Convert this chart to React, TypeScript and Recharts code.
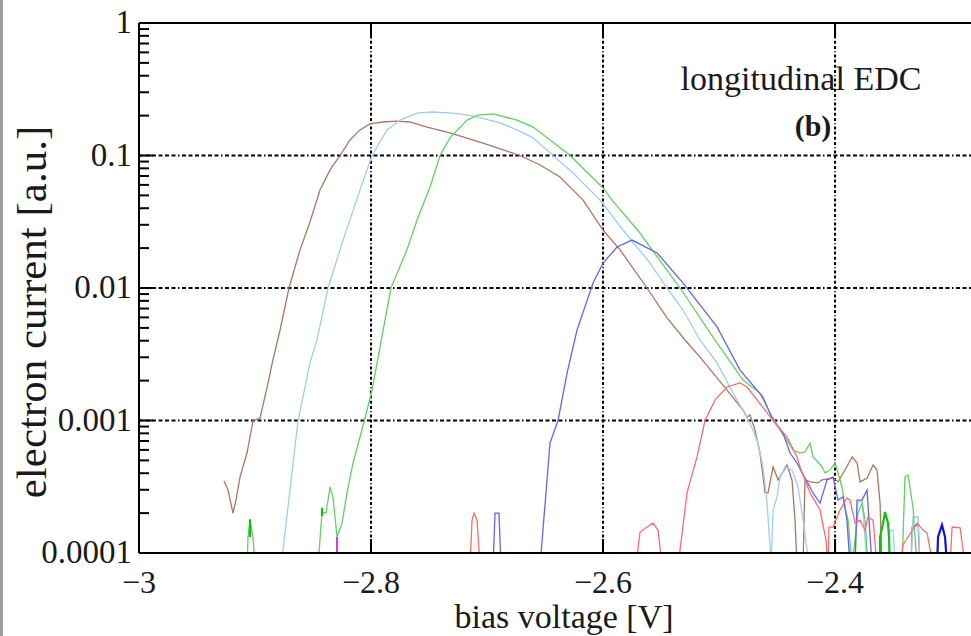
import React from 'react';
import { LineChart, Line, XAxis, YAxis, ReferenceLine, Customized } from 'recharts';

// ---------- axis / label values ----------
const X_DOMAIN: [number, number] = [-3, -2.2828];
const X_TICKS = [-3, -2.8, -2.6, -2.4];
const Y_DOMAIN: [number, number] = [0.0001, 1];
const Y_MAJOR = [0.0001, 0.001, 0.01, 0.1, 1];
const Y_LABELS = ['0.0001', '0.001', '0.01', '0.1', '1'];
const MINOR_MULT = [2, 3, 4, 5, 6, 7, 8, 9];
const GRID_X = [-2.8, -2.6, -2.4];
const GRID_Y = [0.001, 0.01, 0.1];
const FLOOR = 8e-5; // below the axis floor: the trace drops out of view

type P = [number, number | null];

// ---------- series (bias voltage [V], electron current [a.u.]) ----------
const BROWN: P[] = [
  [-2.9267, 3.49e-4], [-2.9233, 2.99e-4], [-2.919, 2.0e-4], [-2.9164, 2.51e-4], [-2.9129, 3.75e-4],
  [-2.9069, 5.68e-4], [-2.9017, 1.0e-3], [-2.8957, 1.04e-3], [-2.8897, 1.76e-3], [-2.8845, 2.88e-3],
  [-2.8784, 4.82e-3], [-2.8707, 0.01], [-2.8612, 0.0194], [-2.8526, 0.0315], [-2.844, 0.0549],
  [-2.8353, 0.0778], [-2.8267, 0.1], [-2.8181, 0.131], [-2.8095, 0.156], [-2.8009, 0.173],
  [-2.7897, 0.179], [-2.7776, 0.182], [-2.7664, 0.179], [-2.7517, 0.164], [-2.7319, 0.148],
  [-2.7034, 0.124], [-2.6802, 0.106], [-2.6716, 0.1], [-2.6543, 0.0848], [-2.6371, 0.0689],
  [-2.6172, 0.0461], [-2.6, 0.0274], [-2.5853, 0.0194], [-2.5621, 0.01], [-2.5448, 0.00594],
  [-2.5293, 0.00405], [-2.5164, 0.00301], [-2.4966, 0.00185], [-2.4793, 0.0012], [-2.4759, 0.00106],
  [-2.4733, 0.0011], [-2.469, 8.48e-4], [-2.4647, 5.68e-4], [-2.4603, 2.84e-4], [-2.4578, 2.84e-4],
  [-2.4534, 4.46e-4], [-2.4491, 3.56e-4], [-2.4414, 4.61e-4], [-2.4371, 3.56e-4], [-2.4345, 1.77e-4],
  [-2.4328, FLOOR],
  [-2.4276, FLOOR], [-2.4259, 3.56e-4], [-2.4216, 3.44e-4], [-2.4147, 3.38e-4], [-2.4112, 3.56e-4],
  [-2.4017, 3.68e-4], [-2.3974, 3.44e-4], [-2.3914, 4.23e-4], [-2.3853, 5.31e-4], [-2.381, 4.78e-4],
  [-2.3784, 3.44e-4], [-2.3724, 3.68e-4], [-2.3672, 4.61e-4], [-2.3638, 4.23e-4], [-2.3612, 2.38e-4],
  [-2.3595, FLOOR], [-2.3345, FLOOR], [-2.3336, 1.57e-4], [-2.3284, 1.63e-4], [-2.3267, FLOOR],
];

const LIGHTBLUE: P[] = [
  [-2.8776, FLOOR], [-2.8759, 1.05e-4], [-2.8629, 0.001], [-2.8526, 2.72e-3], [-2.8466, 4.05e-3],
  [-2.8371, 0.01], [-2.8241, 0.023], [-2.8095, 0.0549], [-2.7991, 0.1], [-2.7862, 0.156],
  [-2.775, 0.185], [-2.7603, 0.209], [-2.7466, 0.213], [-2.7293, 0.209], [-2.7121, 0.199],
  [-2.6888, 0.176], [-2.6741, 0.156], [-2.6603, 0.136], [-2.6431, 0.1], [-2.6259, 0.0738],
  [-2.6026, 0.0461], [-2.5828, 0.0274], [-2.5595, 0.0154], [-2.5448, 0.01], [-2.531, 0.00682],
  [-2.5164, 0.00405], [-2.5017, 0.00272], [-2.4879, 0.00161], [-2.4733, 9.57e-4], [-2.4664, 6.76e-4],
  [-2.4621, 4.46e-4], [-2.4586, 2.38e-4], [-2.456, 1.11e-4], [-2.4552, FLOOR], [-2.4534, 2.11e-4],
  [-2.45, 2.65e-4], [-2.4474, 3.75e-4], [-2.4431, 4.46e-4], [-2.4371, 4.23e-4], [-2.4319, 3.15e-4],
  [-2.4276, 1.77e-4], [-2.4241, 1.05e-4], [-2.4224, FLOOR],
  [-2.3828, FLOOR], [-2.381, 2.38e-4], [-2.3767, 2.51e-4], [-2.3724, FLOOR],
  [-2.3543, FLOOR], [-2.3526, 1.49e-4], [-2.35, 1.49e-4], [-2.348, FLOOR],
  [-2.3345, FLOOR], [-2.3328, 1.87e-4], [-2.3284, 1.87e-4], [-2.3267, FLOOR],
];

const GREEN: P[] = [
  [-2.9069, FLOOR], [-2.906, 1.32e-4], [-2.9043, 1.77e-4], [-2.9017, 1.32e-4], [-2.9, FLOOR],
  [-2.8457, FLOOR], [-2.8422, 2.04e-4], [-2.8388, 2.0e-4], [-2.8353, 3.15e-4], [-2.8328, 2.65e-4],
  [-2.8293, 1.32e-4], [-2.825, 1.68e-4], [-2.8207, 2.84e-4], [-2.8155, 4.78e-4], [-2.8095, 7.5e-4],
  [-2.8034, 1.2e-3], [-2.7991, 1.7e-3], [-2.7922, 3.6e-3], [-2.7828, 0.01], [-2.769, 0.0194],
  [-2.7603, 0.0326], [-2.7491, 0.0578], [-2.7405, 0.1], [-2.7319, 0.136], [-2.7172, 0.185],
  [-2.7078, 0.202], [-2.6948, 0.206], [-2.6741, 0.185], [-2.6603, 0.164], [-2.6457, 0.131],
  [-2.6284, 0.1], [-2.6, 0.0569], [-2.5922, 0.0461], [-2.5681, 0.026], [-2.5621, 0.0219],
  [-2.5336, 0.01], [-2.5017, 0.00384], [-2.4793, 0.00202], [-2.4647, 0.00161], [-2.456, 0.00114],
  [-2.4448, 7.78e-4], [-2.4414, 7.12e-4], [-2.4362, 5.99e-4], [-2.4302, 5.68e-4], [-2.4259, 5.78e-4],
  [-2.4216, 6.76e-4], [-2.419, 5.31e-4], [-2.4147, 4.86e-4], [-2.4112, 4.46e-4], [-2.4086, 4.02e-4],
  [-2.4043, 4.23e-4], [-2.4, 4.78e-4], [-2.3974, 4.02e-4], [-2.394, 3.15e-4], [-2.3914, 2.22e-4],
  [-2.3888, 1.77e-4], [-2.3853, FLOOR], [-2.3802, 2.0e-4], [-2.3767, 2.38e-4], [-2.3741, 1.77e-4],
  [-2.3716, FLOOR],
  [-2.3422, FLOOR], [-2.3397, 3.75e-4], [-2.3371, 3.88e-4], [-2.3328, 2.22e-4], [-2.3293, FLOOR],
];

const GREEN_BRIGHT: P[] = [
  [-2.9043, 1.32e-4], [-2.9043, 1.8e-4], [-2.87, null],
  [-2.8422, 1.9e-4], [-2.8422, 2.2e-4], [-2.5, null],
  [-2.3612, FLOOR], [-2.3612, 1.32e-4], [-2.3586, 1.68e-4], [-2.3569, 2.04e-4],
  [-2.3543, 1.68e-4], [-2.3535, 1.32e-4], [-2.3526, FLOOR],
];

const BLUE: P[] = [
  [-2.6948, FLOOR], [-2.6931, 2.0e-4], [-2.6897, 2.0e-4], [-2.688, FLOOR],
  [-2.6543, FLOOR], [-2.6457, 6.76e-4], [-2.6388, 0.001], [-2.631, 2.28e-3], [-2.6224, 4.82e-3],
  [-2.6086, 0.0109], [-2.6, 0.0154], [-2.5879, 0.0204], [-2.575, 0.023], [-2.5534, 0.0184],
  [-2.531, 0.0109], [-2.5017, 5.08e-3], [-2.4819, 2.4e-3], [-2.4621, 1.5e-3], [-2.4534, 1.0e-3],
  [-2.4448, 8.05e-4], [-2.4388, 5.68e-4], [-2.4328, 4.78e-4], [-2.4284, 4.02e-4], [-2.4241, 3.44e-4],
  [-2.419, 2.84e-4], [-2.4129, 2.38e-4], [-2.4103, 2.84e-4], [-2.4069, 3.56e-4], [-2.4017, 3.75e-4],
  [-2.3974, 2.51e-4], [-2.3931, 2.65e-4], [-2.3897, 1.77e-4], [-2.3871, FLOOR],
  [-2.3828, FLOOR], [-2.381, 2.51e-4], [-2.3767, 2.51e-4], [-2.3724, 2.99e-4], [-2.3707, 1.77e-4],
  [-2.3681, FLOOR],
];

const BLUE_BRIGHT: P[] = [
  [-2.3121, FLOOR], [-2.3112, 1.32e-4], [-2.3078, 1.63e-4], [-2.3052, 1.32e-4], [-2.3034, FLOOR],
];

const RED: P[] = [
  [-2.7147, FLOOR], [-2.7129, 1.77e-4], [-2.7112, 2.0e-4], [-2.7086, 1.77e-4], [-2.706, FLOOR],
  [-2.5716, FLOOR], [-2.5681, 1.44e-4], [-2.5621, 1.57e-4], [-2.5569, 1.68e-4], [-2.5526, 1.49e-4],
  [-2.5491, FLOOR],
  [-2.5353, FLOOR], [-2.5276, 2.84e-4], [-2.519, 5.31e-4], [-2.5121, 0.001], [-2.5034, 1.43e-3],
  [-2.4931, 1.79e-3], [-2.4819, 1.92e-3], [-2.4759, 1.79e-3], [-2.4672, 1.43e-3], [-2.4586, 1.14e-3],
  [-2.4517, 9.57e-4], [-2.4414, 7.5e-4], [-2.4328, 5.31e-4], [-2.4302, 4.46e-4], [-2.4216, 2.84e-4],
  [-2.4129, 2.11e-4], [-2.4078, 1.25e-4], [-2.406, FLOOR], [-2.4052, 1.57e-4], [-2.4017, 1.57e-4],
  [-2.3957, 2.11e-4], [-2.3897, 2.6e-4], [-2.3871, 2.51e-4], [-2.3828, 1.68e-4], [-2.3784, 1.77e-4],
  [-2.3741, 1.49e-4], [-2.3716, 1.87e-4], [-2.3672, 1.77e-4], [-2.3638, FLOOR],
  [-2.344, FLOOR], [-2.3414, 1.15e-4], [-2.3371, 1.32e-4], [-2.3293, 1.68e-4], [-2.3241, 1.49e-4],
  [-2.3207, 1.42e-4], [-2.3155, FLOOR], [-2.3009, FLOOR], [-2.2991, 1.57e-4], [-2.2922, 1.55e-4],
  [-2.2879, FLOOR],
];

const MAGENTA: P[] = [[-2.8293, FLOOR], [-2.8293, 1.32e-4]];

const toPts = (arr: P[]) => arr.map(([x, y]) => ({ x, y }));

const SERIES = [
  { name: 'brown', data: BROWN, color: '#ad7563', w: 1.3 },
  { name: 'lightblue', data: LIGHTBLUE, color: '#9ccdfb', w: 1.3 },
  { name: 'green', data: GREEN, color: '#62d062', w: 1.3 },
  { name: 'blue', data: BLUE, color: '#6464f0', w: 1.3 },
  { name: 'red', data: RED, color: '#ff6a6a', w: 1.3 },
  { name: 'greenBright', data: GREEN_BRIGHT, color: '#10c010', w: 2.2 },
  { name: 'blueBright', data: BLUE_BRIGHT, color: '#1010e0', w: 2.2 },
  { name: 'magenta', data: MAGENTA, color: '#c050c0', w: 2.2 },
];

const Y_TICKS = [
  ...Y_MAJOR.slice(0, -1).flatMap((d) => [d, ...MINOR_MULT.map((m) => +(m * d).toPrecision(6))]),
  1,
];

const FONT = 'Liberation Serif, Times New Roman, DejaVu Serif, serif';
const TEXT = '#1a1a1a';
const GRID_H_DASH = '4 2.5 4 2.5 4 2.5 4 2.5 4 2.5 4 2.5 1.5 2.5';
const GRID_V_DASH = '3 2.2 3 2.2 3 2.2 3 2.2 1 2.2';

const txt = (size: number, bold = false): React.CSSProperties => ({
  fontFamily: FONT,
  fontSize: size,
  fontWeight: bold ? 'bold' : 'normal',
  fill: TEXT,
});

const fmtX = (v: number) => (v < 0 ? '\u2212' : '') + String(Math.abs(v));

const BottomTick = (props: any) => {
  const { x, y, payload } = props;
  return (
    <g>
      <line x1={x} y1={y} x2={x} y2={y - 14} stroke="#000" strokeWidth={2} />
      <text x={x} y={y + 40} textAnchor="middle" style={txt(32)}>
        {fmtX(payload.value)}
      </text>
    </g>
  );
};

const TopTick = (props: any) => {
  const { x, y } = props;
  return <line x1={x} y1={y} x2={x} y2={y + 13} stroke="#000" strokeWidth={2} />;
};

const LeftTick = (props: any) => {
  const { x, y, payload } = props;
  const v = payload.value as number;
  const idx = Y_MAJOR.findIndex((m) => Math.abs(m - v) / m < 1e-6);
  const major = idx >= 0;
  return (
    <g>
      <line x1={x} y1={y} x2={x + (major ? 14 : 10)} y2={y} stroke="#000" strokeWidth={2} />
      {major && (
        <text x={x - 7} y={y + 10} textAnchor="end" style={txt(33)}>
          {Y_LABELS[idx]}
        </text>
      )}
    </g>
  );
};

const Texts = () => (
  <g>
    <text x={801} y={90} textAnchor="middle" style={txt(34)}>
      longitudinal EDC
    </text>
    <text x={813} y={136} textAnchor="middle" style={txt(30, true)}>
      (b)
    </text>
    <text x={564} y={628} textAnchor="middle" style={txt(34)}>
      bias voltage [V]
    </text>
    <text x={46} y={312} textAnchor="middle" style={txt(43)} transform="rotate(-90 46 312)">
      electron current [a.u.]
    </text>
  </g>
);

export default function App() {
  return (
    <div style={{ position: 'fixed', left: 0, top: 0, width: 971, height: 636, background: '#fff' }}>
      <div style={{ position: 'absolute', left: 0, top: 0, width: 3, height: 636, background: '#9c9c9c' }} />
      <LineChart width={971} height={636} margin={{ top: 22, right: 0, bottom: 0, left: 0 }}>
        <XAxis
          xAxisId="b"
          type="number"
          dataKey="x"
          domain={X_DOMAIN}
          ticks={X_TICKS}
          interval={0}
          allowDataOverflow
          height={83}
          tickSize={0}
          tickMargin={0}
          tickLine={false}
          axisLine={{ stroke: '#000', strokeWidth: 2 }}
          tick={<BottomTick />}
        />
        <XAxis
          xAxisId="t"
          orientation="top"
          type="number"
          dataKey="x"
          domain={X_DOMAIN}
          ticks={X_TICKS}
          interval={0}
          allowDataOverflow
          height={1}
          tickSize={0}
          tickMargin={0}
          tickLine={false}
          axisLine={{ stroke: '#000', strokeWidth: 2 }}
          tick={<TopTick />}
        />
        <YAxis
          yAxisId="l"
          type="number"
          scale="log"
          domain={Y_DOMAIN}
          ticks={Y_TICKS}
          interval={0}
          allowDataOverflow
          width={139}
          tickSize={0}
          tickMargin={0}
          tickLine={false}
          axisLine={{ stroke: '#000', strokeWidth: 2 }}
          tick={<LeftTick />}
        />
        {GRID_Y.map((v) => (
          <ReferenceLine key={'gy' + v} xAxisId="b" yAxisId="l" y={v} stroke="#000" strokeWidth={1.8} strokeDasharray={GRID_H_DASH} />
        ))}
        {GRID_X.map((v) => (
          <ReferenceLine key={'gx' + v} xAxisId="b" yAxisId="l" x={v} stroke="#000" strokeWidth={2} strokeDasharray={GRID_V_DASH} />
        ))}
        {SERIES.map((s) => (
          <Line
            key={s.name}
            xAxisId="b"
            yAxisId="l"
            data={toPts(s.data)}
            dataKey="y"
            type="linear"
            stroke={s.color}
            strokeWidth={s.w}
            dot={false}
            activeDot={false}
            isAnimationActive={false}
            connectNulls={false}
          />
        ))}
        <Customized component={Texts} />
      </LineChart>
    </div>
  );
}
